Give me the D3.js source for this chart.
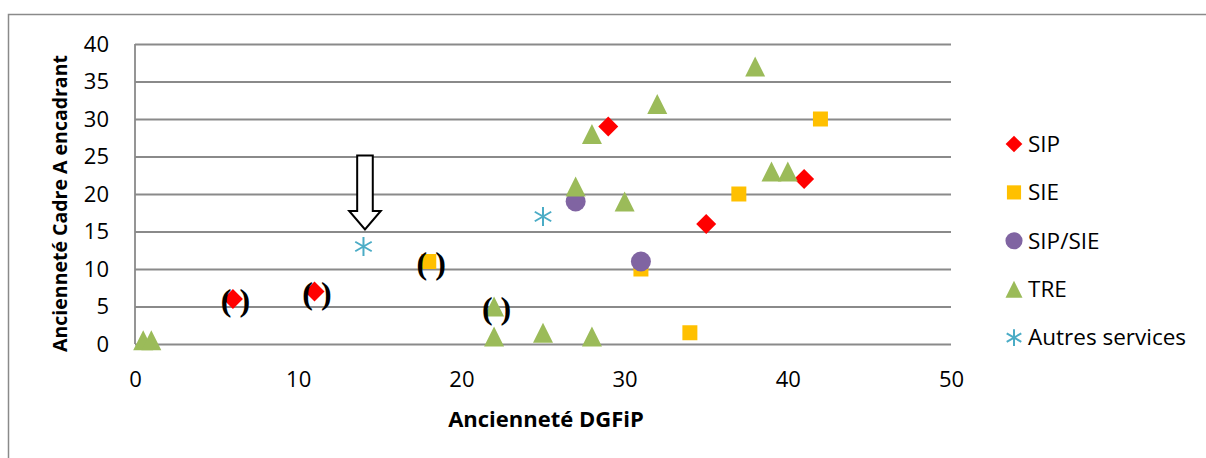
<!DOCTYPE html>
<html>
<head>
<meta charset="utf-8">
<script src="https://cdn.jsdelivr.net/npm/d3@7"></script>
<style>
  body { margin: 0; background: #fff; }
  svg { display: block; }
</style>
</head>
<body>
<div id="chart"></div>
<script>
// 1: DATA (x = Ancienneté DGFiP, y = Ancienneté Cadre A encadrant)
const sip = [[6, 6], [11, 7], [29, 29], [35, 16], [41, 22]];
const sie = [[18, 11], [31, 10], [34, 1.5], [37, 20], [42, 30]];
const sipSie = [[27, 19], [31, 11]];
const tre = [[0.5, 0.5], [1, 0.5], [22, 5], [22, 1], [25, 1.5], [27, 21], [28, 28],
             [28, 1], [30, 19], [32, 32], [38, 37], [39, 23], [40, 23]];
const autres = [[14, 13], [25, 17]];

// points put between brackets, and the one pointed by the arrow
const bracketed = [[6, 6], [11, 7], [18, 11], [22, 5]];
const arrowed = [14, 13];

const xTicks = [0, 10, 20, 30, 40, 50];
const yTicks = [0, 5, 10, 15, 20, 25, 30, 35, 40];
const seriesNames = ["SIP", "SIE", "SIP/SIE", "TRE", "Autres services"];

// 2: SETUP
const W = 1206, H = 458;
const margin = { top: 44, right: 255, bottom: 114, left: 135 };
const width = W - margin.left - margin.right;
const height = H - margin.top - margin.bottom;
const font = "'Open Sans', Lato, sans-serif";

const svg = d3.select("#chart")
    .append("svg")
    .attr("width", W)
    .attr("height", H);

// outer chart border (only top and left visible)
svg.append("rect")
    .attr("x", 8.5).attr("y", 14.5)
    .attr("width", 1400).attr("height", 600)
    .attr("fill", "none")
    .attr("stroke", "#8a8a8a")
    .attr("stroke-width", 1.5);

const g = svg.append("g")
    .attr("transform", `translate(${margin.left},${margin.top})`);

// 3: SCALES
const x = d3.scaleLinear().domain([0, 50]).range([0, width]);
const y = d3.scaleLinear().domain([0, 40]).range([height, 0]);

// 4: GRID + AXES
g.append("g")
    .call(d3.axisLeft(y).tickValues(yTicks).tickSize(-width).tickFormat(""))
    .call(a => a.select(".domain").remove())
    .call(a => a.selectAll("line").attr("stroke", "#8a8a8a").attr("stroke-width", 1.8));

g.append("line")
    .attr("x1", 0).attr("x2", 0)
    .attr("y1", 0).attr("y2", height)
    .attr("stroke", "#8a8a8a").attr("stroke-width", 1.8);

g.append("g")
    .call(d3.axisLeft(y).tickValues(yTicks).tickSize(0).tickPadding(26))
    .call(a => a.select(".domain").remove())
    .call(a => a.selectAll("text")
        .style("font-family", font).style("font-size", "22px").attr("fill", "#000"));

g.append("g")
    .attr("transform", `translate(0,${height})`)
    .call(d3.axisBottom(x).tickValues(xTicks).tickSize(0).tickPadding(43))
    .call(a => a.select(".domain").remove())
    .call(a => a.selectAll("text")
        .attr("dy", "0")
        .style("font-family", font).style("font-size", "22px").attr("fill", "#000"));

// 5: AXIS TITLES
g.append("text")
    .attr("x", 546 - margin.left)
    .attr("y", height + 83)
    .attr("text-anchor", "middle")
    .style("font-family", font)
    .style("font-size", "22px")
    .style("font-weight", "bold")
    .text("Ancienneté DGFiP");

g.append("text")
    .attr("transform", "rotate(-90)")
    .attr("x", -159.5)
    .attr("y", -68)
    .attr("text-anchor", "middle")
    .style("font-family", font)
    .style("font-size", "19.5px")
    .style("font-weight", "bold")
    .text("Ancienneté Cadre A encadrant");

// 6: MARKERS
const diamond = d3.symbol().type(d3.symbolSquare).size(200);
const square = d3.symbol().type(d3.symbolSquare).size(225);
const circle = d3.symbol().type(d3.symbolCircle).size(314);
const star = d3.symbol().type(d3.symbolAsterisk).size(255);
const tri = s => `M0,${-s}L${s},${s}L${-s},${s}Z`;

const series = [
    { data: sip, color: "#ff0000", path: () => diamond(), rot: 45 },
    { data: sie, color: "#ffc000", path: () => square(), rot: 0 },
    { data: sipSie, color: "#8064a2", path: () => circle(), rot: 0 },
    { data: tre, color: "#9bbb59", path: () => tri(10), rot: 0 },
    { data: autres, color: "#4bacc6", path: () => star(), rot: 0, stroke: true }
];

series.forEach(s => {
    g.append("g").selectAll("path")
        .data(s.data)
        .join("path")
        .attr("d", s.path)
        .attr("transform", d => `translate(${x(d[0])},${y(d[1])}) rotate(${s.rot})`)
        .attr("fill", s.stroke ? "none" : s.color)
        .attr("stroke", s.stroke ? s.color : "none")
        .attr("stroke-width", s.stroke ? 2 : 0);
});

// 7: ANNOTATIONS (brackets + arrow)
g.append("g").selectAll("text")
    .data(bracketed)
    .join("text")
    .attr("x", d => x(d[0]) + 2.5)
    .attr("y", d => y(d[1]) + 12)
    .attr("text-anchor", "middle")
    .style("font-family", "'Liberation Serif', 'Times New Roman', serif")
    .style("font-size", "32px")
    .style("font-weight", "bold")
    .text("( )");

g.append("path")
    .attr("transform", `translate(${x(arrowed[0]) + 1.5},${y(arrowed[1]) - 17})`)
    .attr("d", "M-7.8,-74L7.8,-74L7.8,-18.5L15.8,-18.5L0,0L-15.8,-18.5L-7.8,-18.5Z")
    .attr("fill", "#fff")
    .attr("stroke", "#000")
    .attr("stroke-width", 2);

// 8: LEGEND
const legend = svg.append("g").attr("transform", "translate(1014,144)");
const legendSymbols = [
    d3.symbol().type(d3.symbolSquare).size(140)(),
    d3.symbol().type(d3.symbolSquare).size(200)(),
    d3.symbol().type(d3.symbolCircle).size(230)(),
    tri(8.5),
    d3.symbol().type(d3.symbolAsterisk).size(200)()
];

seriesNames.forEach((name, i) => {
    const row = legend.append("g").attr("transform", `translate(0,${i * 48.4})`);
    const s = series[i];
    row.append("path")
        .attr("d", legendSymbols[i])
        .attr("transform", `rotate(${s.rot})`)
        .attr("fill", s.stroke ? "none" : s.color)
        .attr("stroke", s.stroke ? s.color : "none")
        .attr("stroke-width", s.stroke ? 2 : 0);
    row.append("text")
        .attr("x", 14)
        .attr("dy", "0.35em")
        .style("font-family", font)
        .style("font-size", "22.5px")
        .text(name);
});
</script>
</body>
</html>
